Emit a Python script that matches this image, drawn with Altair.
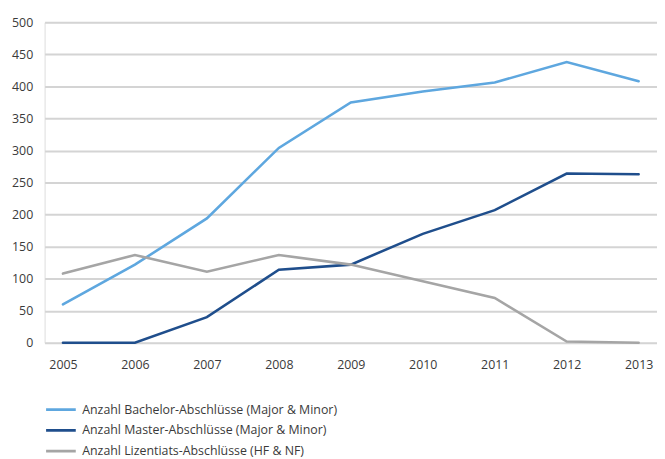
import altair as alt
import pandas as pd

years = ["2005", "2006", "2007", "2008", "2009", "2010", "2011", "2012", "2013"]
bachelor = [60, 122, 194, 304, 375, 392, 406, 438, 408]
master = [0, 0, 40, 114, 122, 170, 207, 264, 263]
lizentiat = [108, 137, 111, 137, 122, 96, 70, 2, 0]
series_names = [
    "Anzahl Bachelor-Abschlüsse (Major & Minor)",
    "Anzahl Master-Abschlüsse (Major & Minor)",
    "Anzahl Lizentiats-Abschlüsse (HF & NF)",
]
colors = ["#5EA7DF", "#1F4E8C", "#A5A5A5"]
y_ticks = [0, 50, 100, 150, 200, 250, 300, 350, 400, 450, 500]

rows = []
for name, vals in zip(series_names, [bachelor, master, lizentiat]):
    for yr, v in zip(years, vals):
        rows.append({"Jahr": yr, "Serie": name, "Wert": v})
df = pd.DataFrame(rows)

font = "Open Sans"
fs = 12.5

chart = (
    alt.Chart(df)
    .mark_line(strokeWidth=2.6, strokeCap="round")
    .encode(
        x=alt.X(
            "Jahr:O",
            sort=years,
            scale=alt.Scale(type="point", padding=0.255),
            axis=alt.Axis(
                title=None, labelAngle=0, domain=False, ticks=False, grid=False,
                labelPadding=16, labelFontSize=fs, labelColor="#3A3A3A", labelFont=font,
            ),
        ),
        y=alt.Y(
            "Wert:Q",
            scale=alt.Scale(domain=[0, 500], nice=False),
            axis=alt.Axis(
                title=None, values=y_ticks, domain=False, ticks=False,
                gridColor="#D4D4D4", gridWidth=2, labelPadding=12,
                labelFontSize=fs, labelColor="#3A3A3A", labelFont=font,
            ),
        ),
        color=alt.Color(
            "Serie:N",
            sort=series_names,
            scale=alt.Scale(domain=series_names, range=colors),
            legend=alt.Legend(
                title=None, orient="none", legendX=0, legendY=384,
                direction="vertical", symbolType="stroke", symbolSize=900,
                symbolStrokeWidth=2.6, labelFontSize=fs, labelColor="#3A3A3A",
                labelFont=font, rowPadding=6, clipHeight=15, labelOffset=5,
                labelLimit=500,
            ),
        ),
    )
    .properties(
        width=619, height=324,
        autosize=alt.AutoSizeParams(type="none"),
        padding={"left": 37, "top": 12, "right": 0, "bottom": 115},
    )
    .configure_view(stroke=None)
    .configure(background="white")
)

chart.save("out.html", embed_options={"renderer": "svg", "actions": False})
